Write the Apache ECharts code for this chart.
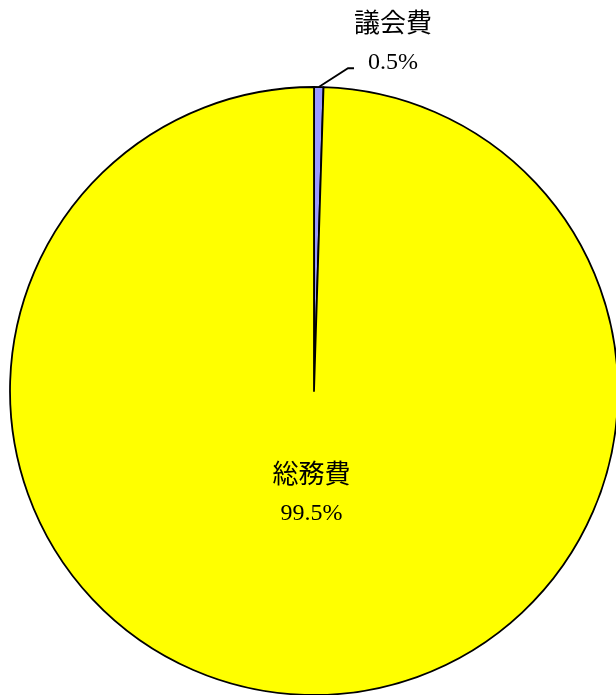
<html>
<head>
    <meta charset="utf-8">
    <title>ECharts</title>
    <script src="https://cdn.jsdelivr.net/npm/echarts@6/dist/echarts.min.js"></script>
    <style>html,body{margin:0;padding:0;background:#fff;}</style>
</head>
<body>
    <div id="main" style="height:695px;width:616px;"></div>
    <script type="text/javascript">
    // data
    var names = ['議会費', '総務費'];
    var values = [0.5, 99.5];
    var colors = ['#9999ff', '#ffff00'];

    var myChart = echarts.init(document.getElementById('main'));

    var font = '"Liberation Serif", "Noto Sans CJK JP", serif';
    function fmt(p) { return '{a|' + p.name + '}\n{b|' + p.value.toFixed(1) + '%}'; }

    var data = [];
    for (var i = 0; i < names.length; i++) {
        data.push({ name: names[i], value: values[i], itemStyle: { color: colors[i] } });
    }
    // small slice: label above right; a blank third line pulls the leader's anchor down
    data[0].label = {
        position: 'outside',
        formatter: function (p) { return fmt(p) + '\n{c| }'; }
    };
    data[0].labelLine = { show: true, length: 18, length2: 6 };
    // big slice: label inside, a bit below the centre
    data[1].label = { position: 'inner', offset: [0, -51], formatter: fmt };
    data[1].labelLine = { show: false };

    var option = {
        animation: false,
        series: [{
            type: 'pie',
            center: [314, 391],
            radius: 304,
            startAngle: 90,
            clockwise: true,
            data: data,
            itemStyle: { borderColor: '#000', borderWidth: 1.8 },
            label: {
                color: '#000',
                rich: {
                    a: { fontFamily: font, fontSize: 26, lineHeight: 37, color: '#000' },
                    b: { fontFamily: font, fontSize: 24, lineHeight: 37, color: '#000' },
                    c: { fontSize: 10, lineHeight: 76 }
                }
            },
            labelLine: { lineStyle: { color: '#000', width: 1.8 } },
            labelLayout: function (params) {
                if (params.dataIndex === 0) {
                    return { x: 393, y: 82, align: 'center', verticalAlign: 'middle' };
                }
            }
        }]
    };
    myChart.setOption(option);
    </script>
</body>
</html>
